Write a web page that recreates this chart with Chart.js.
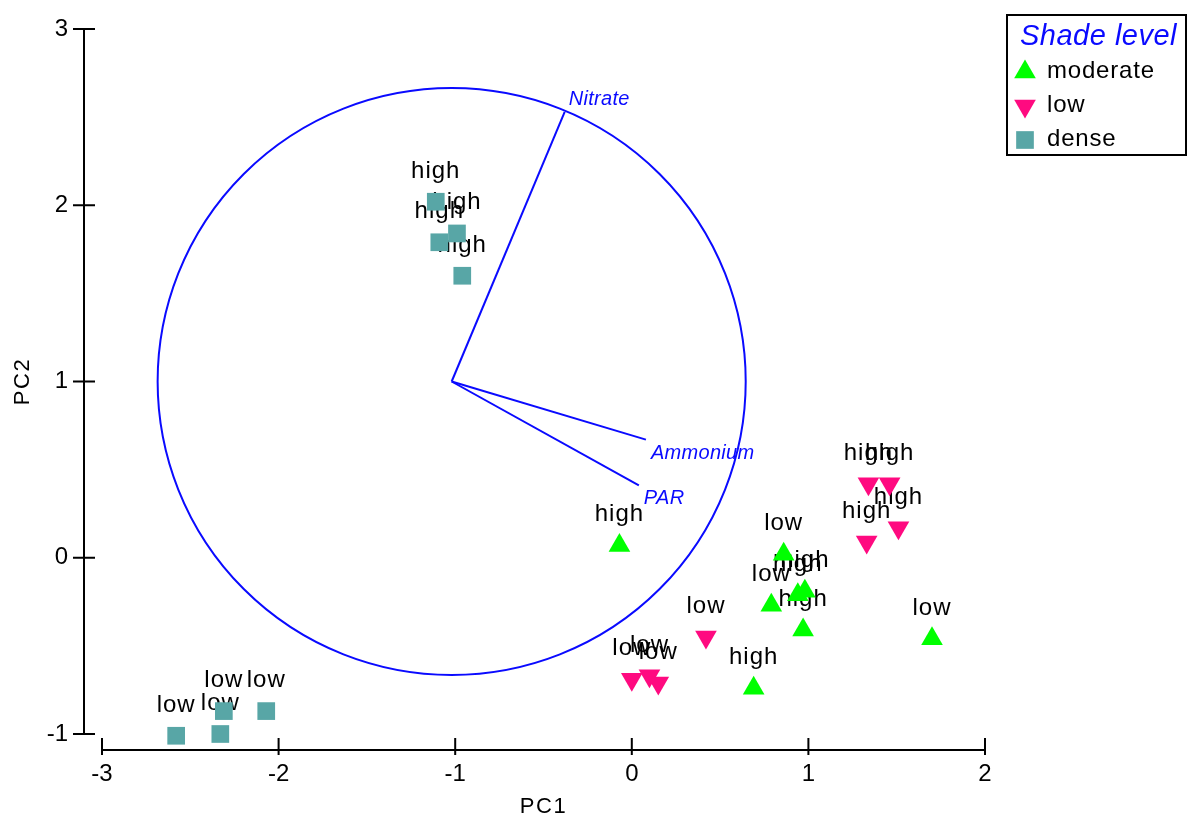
<!DOCTYPE html>
<html>
<head>
<meta charset="utf-8">
<title>PCA biplot - shade level</title>
<script src="https://cdn.jsdelivr.net/npm/chart.js@4.4.1/dist/chart.umd.min.js"></script>
<style>
  html, body { margin: 0; padding: 0; background: #fff; }
  #wrap { width: 1191px; height: 819px; }
</style>
</head>
<body>
<div id="wrap"><canvas id="biplot" width="1191" height="819"></canvas></div>
<script>
// shade level groups
const shadeLevels = ["moderate", "low", "dense"];

// site scores (PC1, PC2) and their light tag, per shade level
const moderatePC1 = [-0.07, 0.86, 0.79, 0.94, 0.98, 0.97, 0.69, 1.70];
const moderatePC2 = [0.07, 0.02, -0.27, -0.21, -0.19, -0.41, -0.74, -0.46];
const moderateTags = ["high", "low", "low", "high", "high", "high", "high", "low"];

const lowPC1 = [1.34, 1.46, 1.51, 1.33, 0.42, 0.0, 0.10, 0.15];
const lowPC2 = [0.42, 0.42, 0.17, 0.09, -0.45, -0.69, -0.67, -0.71];
const lowTags = ["high", "high", "high", "high", "low", "low", "low", "low"];

const densePC1 = [-1.11, -0.99, -1.09, -0.96, -2.58, -2.33, -2.31, -2.07];
const densePC2 = [2.02, 1.84, 1.79, 1.60, -1.01, -1.00, -0.87, -0.87];
const denseTags = ["high", "high", "high", "high", "low", "low", "low", "low"];

// environmental vectors (drawn from the circle centre)
const envNames = ["Nitrate", "Ammonium", "PAR"];
const envPC1 = [-0.38, 0.08, 0.04];
const envPC2 = [2.53, 0.67, 0.41];
const vecOrigin = [-1.02, 1.0];
const circleRadius = 1.665;

// axis ticks
const xTicks = [-3, -2, -1, 0, 1, 2];
const yTicks = [-1, 0, 1, 2, 3];

const BLUE = "#0a0aff";
const FONT = "'Liberation Sans', Arial, sans-serif";
Chart.defaults.font.family = FONT;

const toPoints = (xs, ys) => xs.map((v, i) => ({ x: v, y: ys[i] }));

const datasets = [
  {
    label: shadeLevels[0],
    data: toPoints(moderatePC1, moderatePC2),
    tags: moderateTags,
    backgroundColor: "#00ff00",
    pointStyle: "triangle",
    rotation: 0,
  },
  {
    label: shadeLevels[1],
    data: toPoints(lowPC1, lowPC2),
    tags: lowTags,
    backgroundColor: "#ff0a80",
    pointStyle: "triangle",
    rotation: 180,
  },
  {
    label: shadeLevels[2],
    data: toPoints(densePC1, densePC2),
    tags: denseTags,
    backgroundColor: "#58a6a6",
    pointStyle: "rect",
    rotation: 0,
  },
];
datasets.forEach(ds => {
  ds.type = "scatter";
  ds.pointRadius = 12.5;
  ds.pointHoverRadius = 12.5;
  ds.borderWidth = 0;
  ds.clip = false;
});

envNames.forEach((name, i) => {
  datasets.push({
    type: "line",
    label: name,
    data: [{ x: vecOrigin[0], y: vecOrigin[1] }, { x: envPC1[i], y: envPC2[i] }],
    borderColor: BLUE,
    borderWidth: 2,
    pointRadius: 0,
    fill: false,
    clip: false,
  });
});

// circle, point tags, vector names, detached axes, titles, legend
const biplotDecor = {
  id: "biplotDecor",
  beforeDatasetsDraw(chart) {
    const { ctx, scales: { x, y } } = chart;
    ctx.save();
    const cx = x.getPixelForValue(vecOrigin[0]);
    const cy = y.getPixelForValue(vecOrigin[1]);
    const rx = Math.abs(x.getPixelForValue(vecOrigin[0] + circleRadius) - cx);
    const ry = Math.abs(y.getPixelForValue(vecOrigin[1] + circleRadius) - cy);
    ctx.strokeStyle = BLUE;
    ctx.lineWidth = 2;
    ctx.beginPath();
    ctx.ellipse(cx, cy, rx, ry, 0, 0, Math.PI * 2);
    ctx.stroke();

    ctx.fillStyle = "#000";
    ctx.font = "24px " + FONT;
    ctx.letterSpacing = "1px";
    ctx.textAlign = "center";
    ctx.textBaseline = "alphabetic";
    chart.data.datasets.forEach((ds, i) => {
      if (!ds.tags) return;
      chart.getDatasetMeta(i).data.forEach((pt, j) => {
        ctx.fillText(ds.tags[j], pt.x, pt.y - 24);
      });
    });
    ctx.restore();
  },
  afterDatasetsDraw(chart) {
    const { ctx, scales: { x, y } } = chart;
    const offs = [[4, -7], [5, 19], [5, 19]];
    ctx.save();
    ctx.fillStyle = BLUE;
    ctx.font = "italic 20px " + FONT;
    ctx.letterSpacing = "0.3px";
    ctx.textAlign = "left";
    envNames.forEach((name, i) => {
      const px = x.getPixelForValue(envPC1[i]);
      const py = y.getPixelForValue(envPC2[i]);
      ctx.fillText(name, px + offs[i][0], py + offs[i][1]);
    });
    ctx.restore();
  },
  afterDraw(chart) {
    const { ctx, chartArea, scales: { x, y } } = chart;
    ctx.save();
    ctx.strokeStyle = "#000";
    ctx.lineWidth = 2;
    ctx.beginPath();
    // y axis, pulled off to the left
    const ax = chartArea.left - 18;
    ctx.moveTo(ax, y.getPixelForValue(y.max));
    ctx.lineTo(ax, y.getPixelForValue(y.min));
    y.ticks.forEach(t => {
      const py = y.getPixelForValue(t.value);
      ctx.moveTo(ax - 11, py);
      ctx.lineTo(ax + 11, py);
    });
    // x axis, pulled down
    const ay = chartArea.bottom + 16;
    ctx.moveTo(x.getPixelForValue(x.min), ay);
    ctx.lineTo(x.getPixelForValue(x.max), ay);
    x.ticks.forEach(t => {
      const px = x.getPixelForValue(t.value);
      ctx.moveTo(px, ay - 12);
      ctx.lineTo(px, ay + 5);
    });
    ctx.stroke();

    // axis titles
    ctx.fillStyle = "#000";
    ctx.font = "22px " + FONT;
    ctx.letterSpacing = "1.5px";
    ctx.textAlign = "center";
    ctx.textBaseline = "middle";
    ctx.fillText("PC1", (chartArea.left + chartArea.right) / 2, 807);
    ctx.save();
    ctx.translate(23, (chartArea.top + chartArea.bottom) / 2);
    ctx.rotate(-Math.PI / 2);
    ctx.fillText("PC2", 0, 0);
    ctx.restore();

    // legend
    const lx = 1007, ly = 15, lw = 179, lh = 140;
    ctx.lineWidth = 2;
    ctx.strokeRect(lx, ly, lw, lh);
    ctx.fillStyle = BLUE;
    ctx.font = "italic 29px " + FONT;
    ctx.letterSpacing = "0.5px";
    ctx.textAlign = "left";
    ctx.textBaseline = "alphabetic";
    ctx.fillText("Shade level", lx + 13, ly + 30);
    ctx.font = "24px " + FONT;
    ctx.letterSpacing = "0.8px";
    shadeLevels.forEach((name, i) => {
      const ds = chart.data.datasets[i];
      const base = ly + 63 + i * 34;
      ctx.fillStyle = ds.backgroundColor;
      Chart.helpers.drawPoint(ctx, {
        pointStyle: ds.pointStyle,
        rotation: ds.rotation,
        radius: 12.5,
        borderWidth: 0,
      }, lx + 18, base - 6);
      ctx.fillStyle = "#000";
      ctx.fillText(name, lx + 40, base);
    });
    ctx.restore();
  },
};

new Chart(document.getElementById("biplot").getContext("2d"), {
  type: "scatter",
  data: { datasets: datasets },
  options: {
    responsive: false,
    animation: false,
    layout: { padding: { left: 0, right: 206, top: 29, bottom: 0 } },
    plugins: {
      legend: { display: false },
      tooltip: { enabled: false },
    },
    scales: {
      x: {
        type: "linear",
        min: -3,
        max: 2,
        afterBuildTicks: s => { s.ticks = xTicks.map(v => ({ value: v })); },
        afterFit: s => { s.height = 85; },
        grid: { display: false, drawTicks: false },
        border: { display: false },
        ticks: { color: "#000", font: { size: 24 }, padding: 26, maxRotation: 0 },
      },
      y: {
        type: "linear",
        min: -1,
        max: 3,
        afterBuildTicks: s => { s.ticks = yTicks.map(v => ({ value: v })); },
        afterFit: s => { s.width = 102; s.paddingTop = 0; s.paddingBottom = 0; },
        grid: { display: false, drawTicks: false },
        border: { display: false },
        ticks: { color: "#000", font: { size: 24 }, padding: 34 },
      },
    },
  },
  plugins: [biplotDecor],
});
</script>
</body>
</html>
